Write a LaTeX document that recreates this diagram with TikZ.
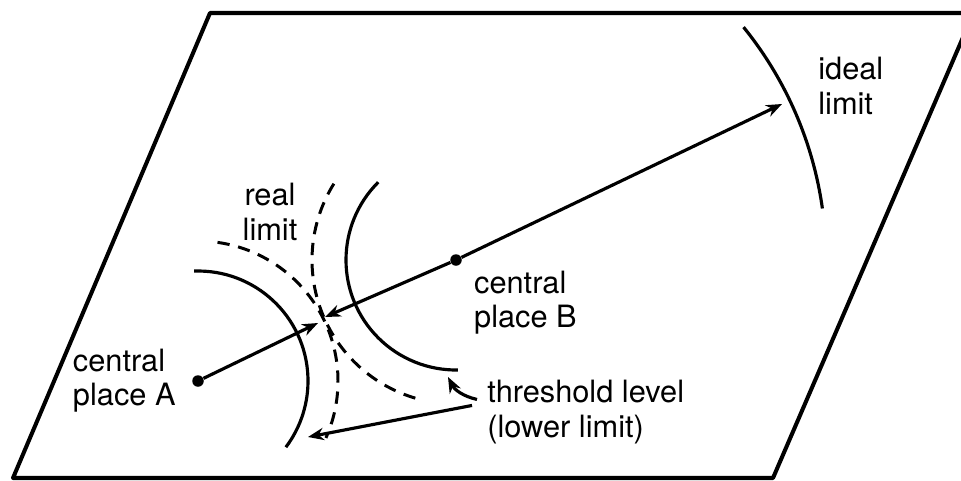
\documentclass[tikz,border=0pt]{standalone}
\usepackage{fontspec}
\setmainfont{TeX Gyre Heros}
\usetikzlibrary{arrows.meta,positioning}

\begin{document}
\begin{tikzpicture}[
    placedot/.style={circle,fill=black,inner sep=0pt,minimum size=0.23cm},
    lbl/.style={inner sep=0pt,align=left,font=\fontsize{17.5}{19.5}\selectfont},
    arr/.style={line width=1.8pt,-{Stealth[length=9pt,width=7pt]}},
    thresh/.style={line width=1.8pt},
    reallim/.style={line width=1.7pt,dash pattern=on 7pt off 5pt}
  ]
        \useasboundingbox (0,0) rectangle (19.22,9.6);
        \clip (0,0) rectangle (19.22,9.6);
        \draw[line width=2.3pt,line join=round] (0.26,0.04) -- (4.2,9.34) -- (19.47,9.34) -- (15.46,0.04) -- cycle;

        \node[placedot] (A) at (3.96,1.98) {};
        \node[placedot] (B) at (9.12,4.40) {};

        \draw[thresh] (A) ++(92:2.2) arc[start angle=92,end angle=-37,radius=2.2];
        \draw[thresh] (B) ++(135:2.2) arc[start angle=135,end angle=271,radius=2.2];
        \draw[reallim] (A) ++(82:2.8) arc[start angle=82,end angle=-24,radius=2.8];
        \draw[reallim] (B) ++(148:2.88) arc[start angle=148,end angle=257,radius=2.88];
        \draw[thresh] (B) ++(39:7.4) arc[start angle=39,end angle=8,radius=7.4];

        \coordinate (realA) at (6.36,3.14);
        \coordinate (realB) at (6.5,3.26);
        \coordinate (ideal) at (15.64,7.52);
        \coordinate (thrB) at (8.96,2.06);
        \coordinate (thrA) at (6.16,0.86);

        \draw[arr] (A) -- (realA);
        \draw[arr] (B) -- (realB);
        \draw[arr] (B) -- (ideal);

        \node[lbl,left=0.32cm of A] (labA) {central\\place A};
        \node[lbl,below right=0.13cm and 0.27cm of B] (labB) {central\\place B};
        \node[lbl,anchor=north west] (labIdeal) at (16.36,8.46) {ideal\\limit};
        \node[lbl,align=center,anchor=north] (labReal) at (5.4,5.94) {real\\limit};
        \node[lbl,anchor=north west] (labThr) at (9.74,2.0) {threshold level\\(lower limit)};

        \draw[arr] ([shift={(-0.2,0.25)}]labThr.west) to[bend left=25] (thrB);
        \draw[arr] ([shift={(-0.3,0.13)}]labThr.west) -- (thrA);
      \end{tikzpicture}
\end{document}
